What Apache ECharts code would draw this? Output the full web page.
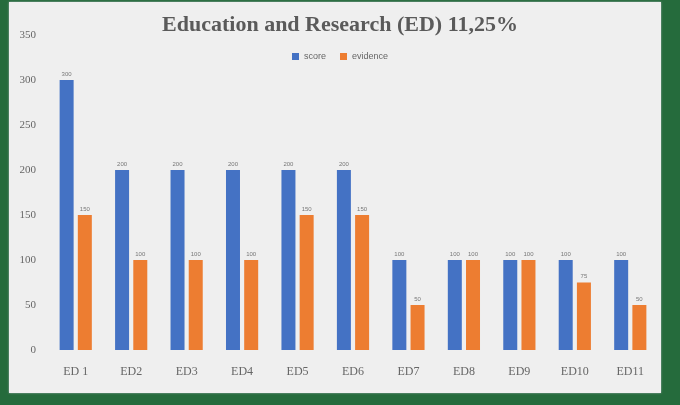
<!DOCTYPE html>
<html>
<head>
<meta charset="utf-8">
<script src="https://cdn.jsdelivr.net/npm/echarts@6/dist/echarts.min.js"></script>
<style>
  html, body { margin: 0; padding: 0; background: #256b3c; }
  .frame {
    position: absolute; left: 9px; top: 2px; width: 652px; height: 391px;
    background: #efefef; box-shadow: 0 0 2px #9aa;
  }
  #chart { position: absolute; left: 0; top: 0; width: 680px; height: 405px; filter: blur(0.6px); }
</style>
</head>
<body>
<div class="frame"></div>
<div id="chart"></div>
<script>
var categories = ['ED 1', 'ED2', 'ED3', 'ED4', 'ED5', 'ED6', 'ED7', 'ED8', 'ED9', 'ED10', 'ED11']
var scoreValues = [300, 200, 200, 200, 200, 200, 100, 100, 100, 100, 100]
var evidenceValues = [150, 100, 100, 100, 150, 150, 50, 100, 100, 75, 50]
var seriesNames = ['score', 'evidence']

var chart = echarts.init(document.getElementById('chart'))
var labelStyle = { show: true, position: 'top', fontSize: 6, color: '#777', distance: 3 }
var option = {
  animation: false,
  title: {
    text: 'Education and Research (ED) 11,25%',
    left: 'center',
    top: 9,
    textStyle: { fontFamily: 'Liberation Serif', fontSize: 22, fontWeight: 'bold', color: '#5a5a5a' }
  },
  legend: {
    data: seriesNames,
    top: 47,
    left: 'center',
    itemWidth: 7,
    itemHeight: 7,
    itemGap: 14,
    icon: 'rect',
    textStyle: { fontSize: 9, color: '#666' }
  },
  grid: { left: 48, right: 22, top: 35, bottom: 55 },
  xAxis: {
    type: 'category',
    data: categories,
    axisLine: { show: false },
    axisTick: { show: false },
    axisLabel: { fontFamily: 'Liberation Serif', fontSize: 12, color: '#666', margin: 16 }
  },
  yAxis: {
    type: 'value',
    min: 0,
    max: 350,
    interval: 50,
    splitLine: { show: false },
    axisLabel: { fontFamily: 'Liberation Serif', fontSize: 11, color: '#666', margin: 12 }
  },
  series: [
    {
      name: seriesNames[0],
      type: 'bar',
      data: scoreValues,
      barWidth: 14,
      barGap: '30%',
      itemStyle: { color: '#4472c4' },
      label: labelStyle
    },
    {
      name: seriesNames[1],
      type: 'bar',
      data: evidenceValues,
      barWidth: 14,
      itemStyle: { color: '#ed7d31' },
      label: labelStyle
    }
  ]
}
chart.setOption(option)
</script>
</body>
</html>
